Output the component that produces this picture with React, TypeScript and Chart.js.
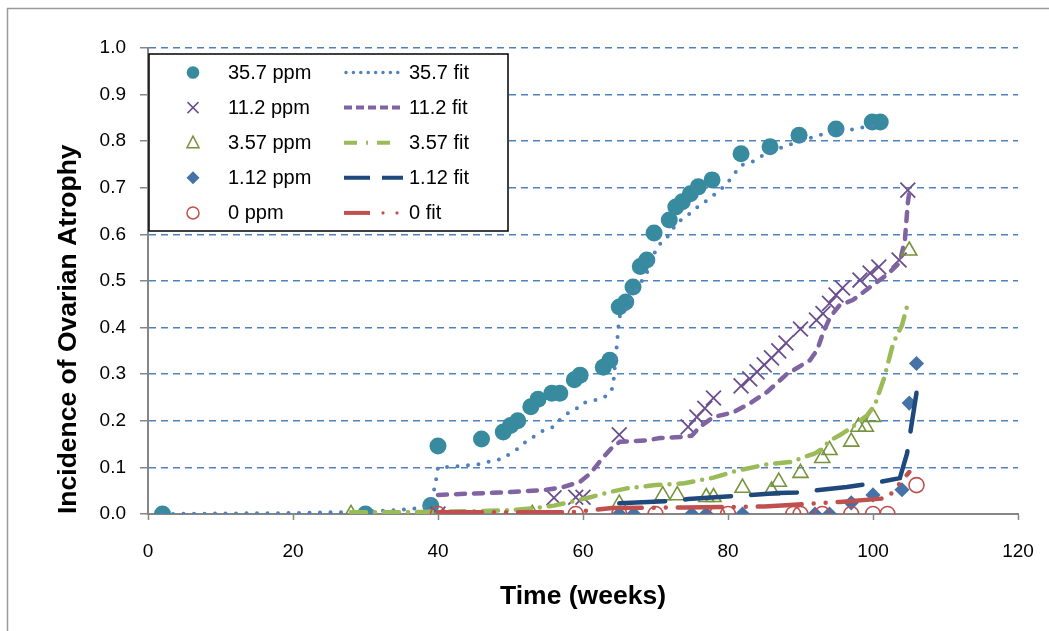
import React, { useEffect, useRef } from 'react';
import { Chart, registerables } from 'chart.js';

Chart.register(...registerables);

const FONT = "'Liberation Sans', Arial, Helvetica, sans-serif";

// ---------- axis settings ----------
const X_MIN = 0;
const X_MAX = 120;
const X_STEP = 20;
const Y_MIN = 0;
const Y_MAX = 1;
const Y_STEP = 0.1;
const X_TITLE = 'Time (weeks)';
const Y_TITLE = 'Incidence of Ovarian Atrophy';

// ---------- observed data ----------
const ppm357X = [2, 30, 39, 40, 46, 49, 50, 51, 52.8, 53.8, 55.7, 56.8, 58.8, 59.6, 62.8, 63.7, 65, 65.9, 66.9, 67.9, 68.8, 69.8, 71.9, 72.8, 73.7, 74.8, 75.9, 77.8, 81.8, 85.8, 89.8, 94.9, 99.9, 101];
const ppm357Y = [0, 0, 0.018, 0.146, 0.161, 0.176, 0.19, 0.2, 0.23, 0.246, 0.259, 0.259, 0.288, 0.298, 0.315, 0.33, 0.444, 0.455, 0.487, 0.531, 0.545, 0.603, 0.631, 0.659, 0.67, 0.687, 0.702, 0.717, 0.773, 0.788, 0.813, 0.826, 0.841, 0.841];

const ppm112X = [40, 56, 59, 60, 65, 74.5, 75.7, 76.8, 78, 81.8, 83, 84, 85, 86, 87, 88, 90, 92.2, 93.1, 94, 94.9, 95.8, 98.2, 99.6, 100.8, 103.6, 104.8];
const ppm112Y = [0, 0.035, 0.036, 0.036, 0.17, 0.187, 0.208, 0.227, 0.249, 0.275, 0.29, 0.305, 0.32, 0.335, 0.35, 0.367, 0.397, 0.416, 0.43, 0.452, 0.47, 0.485, 0.502, 0.517, 0.53, 0.545, 0.695];

const ppm3_57X = [28, 53, 65, 71, 73, 77, 78, 82, 86, 87, 90, 93, 94, 97, 98, 99, 100, 105];
const ppm3_57Y = [0, 0, 0.022, 0.04, 0.04, 0.036, 0.036, 0.056, 0.05, 0.069, 0.088, 0.12, 0.137, 0.155, 0.187, 0.187, 0.208, 0.565];

const ppm1_12X = [65, 67, 75, 77, 82, 92, 94, 97, 100, 104, 105, 106];
const ppm1_12Y = [0, 0, 0, 0, 0, 0, 0, 0.024, 0.041, 0.052, 0.238, 0.323];

const ppm0X = [40, 59, 65, 70, 78.5, 80, 89, 90, 93, 97, 100, 102, 106];
const ppm0Y = [0, 0, 0, 0, 0, 0, 0, 0, 0, 0, 0, 0, 0.062];

// ---------- fitted curves ----------
const fit357X = [2, 10, 20, 30, 35, 37, 38.5, 39.3, 39.7, 40, 41.5, 44.4, 45.8, 47.4, 48.8, 49.9, 51, 52.1, 53.1, 54.1, 55.9, 56.8, 57.9, 58.9, 59.9, 61.4, 62.8, 63.9, 64.2, 64.6, 65, 66, 67, 68.8, 70.2, 71.6, 73, 75, 76.1, 77.2, 78.9, 79.9, 80.7, 81.9, 83.3, 84.4, 85.8, 88, 90, 93, 96.8, 100.3];
const fit357Y = [0, 0.001, 0.002, 0.005, 0.009, 0.012, 0.016, 0.04, 0.07, 0.1, 0.101, 0.105, 0.107, 0.114, 0.118, 0.129, 0.14, 0.155, 0.165, 0.176, 0.187, 0.202, 0.216, 0.223, 0.238, 0.243, 0.249, 0.262, 0.283, 0.35, 0.423, 0.438, 0.474, 0.517, 0.573, 0.594, 0.625, 0.648, 0.663, 0.674, 0.695, 0.71, 0.727, 0.749, 0.755, 0.766, 0.777, 0.79, 0.8, 0.815, 0.824, 0.835];

const fit112X = [40, 45, 50, 55, 57.3, 59.6, 61, 62.8, 64.1, 65.1, 68.8, 70.6, 73.4, 75, 76.1, 78, 80.7, 83, 85.4, 88.1, 91.3, 92.3, 93.1, 94.1, 95.4, 97.2, 99.6, 101.9, 103.7, 104.4, 104.8, 105];
const fit112Y = [0.041, 0.044, 0.047, 0.052, 0.058, 0.069, 0.087, 0.122, 0.144, 0.155, 0.158, 0.163, 0.165, 0.168, 0.187, 0.208, 0.218, 0.237, 0.262, 0.3, 0.33, 0.352, 0.388, 0.423, 0.448, 0.459, 0.487, 0.513, 0.54, 0.588, 0.667, 0.69];

const fit3_57X = [28, 35, 40, 45, 50, 53, 56, 58, 61, 64, 66, 70, 74, 76, 78, 81, 85.5, 89, 90, 92, 93, 94, 95.5, 97, 98.2, 99.2, 100.3, 100.6, 101.5, 102.8, 104, 104.8];
const fit3_57Y = [0.004, 0.004, 0.005, 0.006, 0.008, 0.012, 0.018, 0.025, 0.036, 0.048, 0.055, 0.062, 0.066, 0.072, 0.078, 0.092, 0.107, 0.112, 0.12, 0.13, 0.14, 0.157, 0.17, 0.185, 0.2, 0.212, 0.235, 0.25, 0.29, 0.367, 0.405, 0.452];

const fit1_12X = [65, 72, 74.5, 87, 89.5, 96.4, 100, 103.7, 104.7, 105.3, 106];
const fit1_12Y = [0.023, 0.028, 0.032, 0.045, 0.046, 0.058, 0.066, 0.077, 0.13, 0.19, 0.26];

const fit0X = [40, 58.6, 64, 74, 85, 88, 95.4, 102, 105];
const fit0Y = [0.004, 0.004, 0.013, 0.014, 0.016, 0.019, 0.026, 0.034, 0.09];

// ---------- labels ----------
const dataLabels = ['35.7 ppm', '11.2 ppm', '3.57 ppm', '1.12 ppm', '0 ppm'];
const fitLabels = ['35.7 fit', '11.2 fit', '3.57 fit', '1.12 fit', '0 fit'];

// ---------- colours ----------
const C_TEAL = '#388B9E';
const C_PURPLE_X = '#6B4E8E';
const C_PURPLE_FIT = '#8064A2';
const C_GREEN_TRI = '#77933C';
const C_GREEN_FIT = '#9BBB59';
const C_DIAMOND = '#4572A7';
const C_NAVY = '#1F497D';
const C_RED = '#C0504D';
const C_BLUE = '#4F81BD';
const C_AXIS = '#868686';

const pts = (xs: number[], ys: number[]) => xs.map((x, i) => ({ x, y: ys[i] }));

function drawLegendMarker(ctx: CanvasRenderingContext2D, i: number, x: number, y: number) {
  ctx.save();
  ctx.setLineDash([]);
  if (i === 0) {
    ctx.fillStyle = C_TEAL;
    ctx.beginPath();
    ctx.arc(x, y, 6.3, 0, Math.PI * 2);
    ctx.fill();
  } else if (i === 1) {
    ctx.strokeStyle = C_PURPLE_X;
    ctx.lineWidth = 1.5;
    ctx.beginPath();
    ctx.moveTo(x - 5.5, y - 5.5);
    ctx.lineTo(x + 5.5, y + 5.5);
    ctx.moveTo(x - 5.5, y + 5.5);
    ctx.lineTo(x + 5.5, y - 5.5);
    ctx.stroke();
  } else if (i === 2) {
    ctx.strokeStyle = C_GREEN_TRI;
    ctx.lineWidth = 1.5;
    ctx.beginPath();
    ctx.moveTo(x, y - 6.5);
    ctx.lineTo(x + 6, y + 5);
    ctx.lineTo(x - 6, y + 5);
    ctx.closePath();
    ctx.stroke();
  } else if (i === 3) {
    ctx.fillStyle = C_DIAMOND;
    ctx.beginPath();
    ctx.moveTo(x, y - 6.5);
    ctx.lineTo(x + 6.5, y);
    ctx.lineTo(x, y + 6.5);
    ctx.lineTo(x - 6.5, y);
    ctx.closePath();
    ctx.fill();
  } else {
    ctx.strokeStyle = C_RED;
    ctx.lineWidth = 1.5;
    ctx.beginPath();
    ctx.arc(x, y, 6, 0, Math.PI * 2);
    ctx.stroke();
  }
  ctx.restore();
}

function drawLegendSample(ctx: CanvasRenderingContext2D, i: number, x1: number, x2: number, y: number) {
  ctx.save();
  ctx.lineWidth = 4;
  ctx.lineCap = 'butt';
  if (i === 0) {
    ctx.strokeStyle = C_BLUE;
    ctx.lineWidth = 3.5;
    ctx.lineCap = 'round';
    ctx.setLineDash([0, 7.4]);
    ctx.beginPath();
    ctx.moveTo(x1 + 2, y);
    ctx.lineTo(x2 - 5, y);
    ctx.stroke();
  } else if (i === 1) {
    ctx.strokeStyle = C_PURPLE_FIT;
    ctx.setLineDash([8, 4]);
    ctx.beginPath();
    ctx.moveTo(x1, y);
    ctx.lineTo(x2, y);
    ctx.stroke();
  } else if (i === 2) {
    ctx.strokeStyle = C_GREEN_FIT;
    ctx.setLineDash([13, 9, 2, 9]);
    ctx.beginPath();
    ctx.moveTo(x1, y);
    ctx.lineTo(x2 - 6, y);
    ctx.stroke();
  } else if (i === 3) {
    ctx.strokeStyle = C_NAVY;
    ctx.setLineDash([26, 12]);
    ctx.beginPath();
    ctx.moveTo(x1, y);
    ctx.lineTo(x2, y);
    ctx.stroke();
  } else {
    ctx.strokeStyle = C_RED;
    ctx.beginPath();
    ctx.moveTo(x1, y);
    ctx.lineTo(x1 + 26, y);
    ctx.stroke();
    ctx.fillStyle = C_RED;
    ctx.beginPath();
    ctx.arc(x1 + 39, y, 1.6, 0, Math.PI * 2);
    ctx.arc(x1 + 53, y, 1.6, 0, Math.PI * 2);
    ctx.fill();
  }
  ctx.restore();
}

const backgroundPlugin = {
  id: 'pageBackground',
  beforeDraw(chart: any) {
    const ctx = chart.ctx as CanvasRenderingContext2D;
    ctx.save();
    ctx.fillStyle = '#ffffff';
    ctx.fillRect(0, 0, chart.width, chart.height);
    ctx.strokeStyle = '#9a9a9a';
    ctx.lineWidth = 1.5;
    ctx.strokeRect(7.5, 8.5, chart.width + 20, chart.height + 20);
    ctx.restore();
  },
};

const legendPlugin = {
  id: 'twoColumnLegend',
  afterDraw(chart: any) {
    const ctx = chart.ctx as CanvasRenderingContext2D;
    const bx = 149;
    const by = 54;
    const bw = 359;
    const bh = 177;
    ctx.save();
    ctx.fillStyle = '#ffffff';
    ctx.fillRect(bx, by, bw, bh);
    ctx.strokeStyle = '#000000';
    ctx.lineWidth = 1.5;
    ctx.strokeRect(bx, by, bw, bh);
    ctx.font = `20px ${FONT}`;
    ctx.textBaseline = 'middle';
    ctx.textAlign = 'left';
    dataLabels.forEach((label, i) => {
      const y = 72.5 + i * 35.1;
      drawLegendMarker(ctx, i, 193, y);
      ctx.fillStyle = '#000000';
      ctx.fillText(label, 228, y + 1);
      drawLegendSample(ctx, i, 344, 403, y);
      ctx.fillStyle = '#000000';
      ctx.fillText(fitLabels[i], 409, y + 1);
    });
    ctx.restore();
  },
};

export default function App() {
  const canvasRef = useRef<HTMLCanvasElement | null>(null);

  useEffect(() => {
    const canvas = canvasRef.current;
    if (!canvas) return;

    const datasets: any[] = [
      {
        label: dataLabels[0], data: pts(ppm357X, ppm357Y), showLine: false,
        pointStyle: 'circle', pointRadius: 8.5, pointBackgroundColor: C_TEAL, pointBorderColor: C_TEAL, pointBorderWidth: 0,
      },
      {
        label: fitLabels[0], data: pts(fit357X, fit357Y), showLine: true, pointRadius: 0,
        borderColor: C_BLUE, borderWidth: 4, borderCapStyle: 'round', borderDash: [0, 10.5], tension: 0,
      },
      {
        label: dataLabels[1], data: pts(ppm112X, ppm112Y), showLine: false,
        pointStyle: 'crossRot', pointRadius: 10.5, pointBorderColor: C_PURPLE_X, pointBackgroundColor: C_PURPLE_X, pointBorderWidth: 1.8,
      },
      {
        label: fitLabels[1], data: pts(fit112X, fit112Y), showLine: true, pointRadius: 0,
        borderColor: C_PURPLE_FIT, borderWidth: 4.5, borderCapStyle: 'round', borderDash: [9, 9], tension: 0,
      },
      {
        label: dataLabels[2], data: pts(ppm3_57X, ppm3_57Y), showLine: false,
        pointStyle: 'triangle', pointRadius: 8.7, pointBorderColor: C_GREEN_TRI, pointBackgroundColor: 'rgba(0,0,0,0)', pointBorderWidth: 1.6,
      },
      {
        label: fitLabels[2], data: pts(fit3_57X, fit3_57Y), showLine: true, pointRadius: 0,
        borderColor: C_GREEN_FIT, borderWidth: 4.5, borderCapStyle: 'round', borderDash: [15, 9, 0, 9], tension: 0,
      },
      {
        label: dataLabels[3], data: pts(ppm1_12X, ppm1_12Y), showLine: false,
        pointStyle: 'rectRot', pointRadius: 7.6, pointBackgroundColor: C_DIAMOND, pointBorderColor: C_DIAMOND, pointBorderWidth: 0,
      },
      {
        label: fitLabels[3], data: pts(fit1_12X, fit1_12Y), showLine: true, pointRadius: 0,
        borderColor: C_NAVY, borderWidth: 4.5, borderCapStyle: 'round', borderDash: [46, 20], tension: 0,
      },
      {
        label: dataLabels[4], data: pts(ppm0X, ppm0Y), showLine: false,
        pointStyle: 'circle', pointRadius: 7.5, pointBorderColor: C_RED, pointBackgroundColor: 'rgba(0,0,0,0)', pointBorderWidth: 1.6,
      },
      {
        label: fitLabels[4], data: pts(fit0X, fit0Y), showLine: true, pointRadius: 0,
        borderColor: C_RED, borderWidth: 4.5, borderCapStyle: 'round', borderDash: [44, 12, 0, 12, 0, 12], tension: 0,
      },
    ];
    datasets.forEach((d, i) => { d.order = datasets.length - i; });

    const chart = new Chart(canvas, {
      type: 'scatter',
      data: { datasets },
      options: {
        animation: false,
        responsive: false,
        devicePixelRatio: 1,
        layout: { padding: { left: 0, right: 31, top: 48, bottom: 0 } },
        plugins: {
          legend: { display: false },
          tooltip: { enabled: false },
        },
        scales: {
          x: {
            type: 'linear',
            min: X_MIN,
            max: X_MAX,
            ticks: { stepSize: X_STEP, color: '#000', font: { family: FONT, size: 19 }, padding: 20 },
            grid: { drawOnChartArea: false, drawTicks: true, tickLength: 6, tickColor: C_AXIS, tickWidth: 1.5, color: C_AXIS },
            border: { color: C_AXIS, width: 2 },
            title: {
              display: true, text: X_TITLE, color: '#000',
              font: { family: FONT, size: 26.5, weight: 'bold' }, padding: { top: 0, bottom: 18 },
            },
            afterFit: (s: any) => { s.height = 117; s.paddingLeft = 0; s.paddingRight = 0; },
          },
          y: {
            type: 'linear',
            min: Y_MIN,
            max: Y_MAX,
            ticks: {
              stepSize: Y_STEP, color: '#000', font: { family: FONT, size: 19 }, padding: 14,
              callback: (v: any) => Number(v).toFixed(1),
            },
            grid: {
              color: (c: any) => (c.tick && Math.abs(c.tick.value) < 1e-9 ? 'rgba(0,0,0,0)' : C_BLUE),
              lineWidth: 1.5, tickColor: C_AXIS, tickLength: 8, tickWidth: 1.5, tickBorderDash: [],
            },
            border: { color: C_AXIS, width: 2, dash: [7, 5] },
            title: {
              display: true, text: Y_TITLE, color: '#000', align: 'start',
              font: { family: FONT, size: 26.5, weight: 'bold' }, padding: { top: 53, bottom: 0 },
            },
            afterFit: (s: any) => { s.width = 148; s.paddingTop = 0; s.paddingBottom = 0; },
          },
        },
      } as any,
      plugins: [backgroundPlugin, legendPlugin],
    });

    return () => chart.destroy();
  }, []);

  return (
    <div style={{ position: 'absolute', left: 0, top: 0, width: 1049, height: 631, background: '#fff' }}>
      <canvas ref={canvasRef} width={1049} height={631} style={{ display: 'block', width: 1049, height: 631 }} />
    </div>
  );
}
